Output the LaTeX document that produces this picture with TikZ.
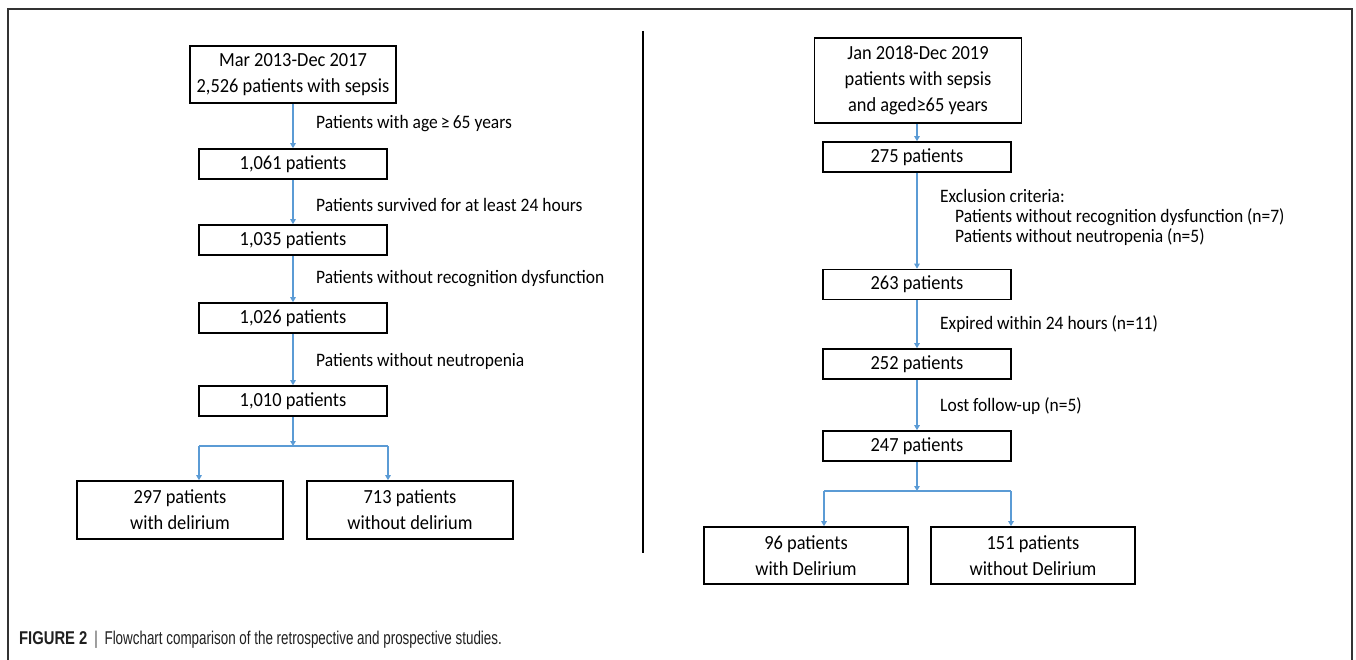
\documentclass[tikz,border=0pt]{standalone}
\usepackage{fontspec}
\setmainfont{Carlito}[FakeStretch=0.92]
\newfontfamily\capfont{Liberation Sans}[FakeStretch=0.725]
\newfontfamily\capbold{Liberation Sans Bold}[FakeStretch=0.8]
\usetikzlibrary{arrows.meta}
\definecolor{arrowblue}{HTML}{5B9BD5}
\definecolor{framegray}{HTML}{333333}
\tikzset{
  box/.style={draw=black, line width=1.6pt, inner sep=0pt, minimum width=188pt, minimum height=30pt, align=center, font=\fontsize{20}{26}\selectfont},
  bigbox/.style={box, minimum width=206pt, minimum height=57pt},
  lbl/.style={anchor=west, inner sep=0pt, font=\fontsize{19}{20}\selectfont},
  flow/.style={draw=arrowblue, line width=1.1pt, -{Triangle[length=5pt,width=5.5pt]}},
  plain/.style={draw=arrowblue, line width=1.1pt}
}
\begin{document}
\begin{tikzpicture}[x=1pt,y=-1pt]
\useasboundingbox (0,0) rectangle (1356,660);
% outer frame
\draw[framegray, line width=1.4pt] (8,660) -- (8,9) -- (1352,9) -- (1352,660);
% divider
\draw[black, line width=2.6pt] (643,31) -- (643,553);

% ---- left flowchart ----
\node[bigbox] (L0) at (293,74.5) {Mar 2013-Dec 2017\\2,526 patients with sepsis};
\node[box] (L1) at (293,164) {1,061 patients};
\node[box] (L2) at (293,240) {1,035 patients};
\node[box] (L3) at (293,318) {1,026 patients};
\node[box] (L4) at (293,401) {1,010 patients};
\node[bigbox, minimum height=58pt] (L5) at (180,510) {297 patients\\with delirium};
\node[bigbox, minimum height=58pt] (L6) at (410,510) {713 patients\\without delirium};

\node[lbl] (l1) at (316,124) {Patients with age\,≥\,65 years};
\node[lbl] (l2) at (316,205) {Patients survived for at least 24 hours};
\node[lbl] (l3) at (316,279) {Patients without recognition dysfunction};
\node[lbl] (l4) at (316,361) {Patients without neutropenia};

\coordinate (LJ) at (293,446);
\coordinate (LJa) at (199,446);
\coordinate (LJb) at (388,446);

\draw[flow] (L0) -- (L1);
\draw[flow] (L1) -- (L2);
\draw[flow] (L2) -- (L3);
\draw[flow] (L3) -- (L4);
\draw[flow] (L4) -- (LJ);
\draw[plain] (LJa) -- (LJb);
\draw[flow] (LJa) -- (LJa |- L5.north);
\draw[flow] (LJb) -- (LJb |- L6.north);

% ---- right flowchart ----
\node[bigbox, minimum width=207pt, minimum height=85pt] (R0) at (918,80.5) {Jan 2018-Dec 2019\\patients with sepsis\\and aged≥65 years};
\node[box] (R1) at (917,157) {275 patients};
\node[box] (R2) at (917,284.5) {263 patients};
\node[box] (R3) at (917,364) {252 patients};
\node[box] (R4) at (917,446) {247 patients};
\node[bigbox, minimum width=204pt] (R5) at (806,555.5) {96 patients\\with Delirium};
\node[bigbox, minimum width=204pt] (R6) at (1033,555.5) {151 patients\\without Delirium};

\node[lbl] (r1) at (940,196) {Exclusion criteria:};
\node[lbl] (r1a) at (955,217) {Patients without recognition dysfunction (n=7)};
\node[lbl] (r1b) at (955,237) {Patients without neutropenia (n=5)};
\node[lbl] (r2) at (940,324) {Expired within 24 hours (n=11)};
\node[lbl] (r3) at (940,406) {Lost follow-up (n=5)};

\coordinate (RJ) at (917,491);
\coordinate (RJa) at (824,491);
\coordinate (RJb) at (1011,491);

\draw[flow] (R0.south -| R1) -- (R1);
\draw[flow] (R1) -- (R2);
\draw[flow] (R2) -- (R3);
\draw[flow] (R3) -- (R4);
\draw[flow] (R4) -- (RJ);
\draw[plain] (RJa) -- (RJb);
\draw[flow] (RJa) -- (RJa |- R5.north);
\draw[flow] (RJb) -- (RJb |- R6.north);

% ---- caption ----
\node[anchor=west, inner sep=0pt, text=black!88, font=\capfont\fontsize{18.5}{20}\selectfont] (cap) at (19,640)
  {{\capbold FIGURE 2}\ \,{\color{black!70}|}\ \,Flowchart comparison of the retrospective and prospective studies.};
\end{tikzpicture}
\end{document}
